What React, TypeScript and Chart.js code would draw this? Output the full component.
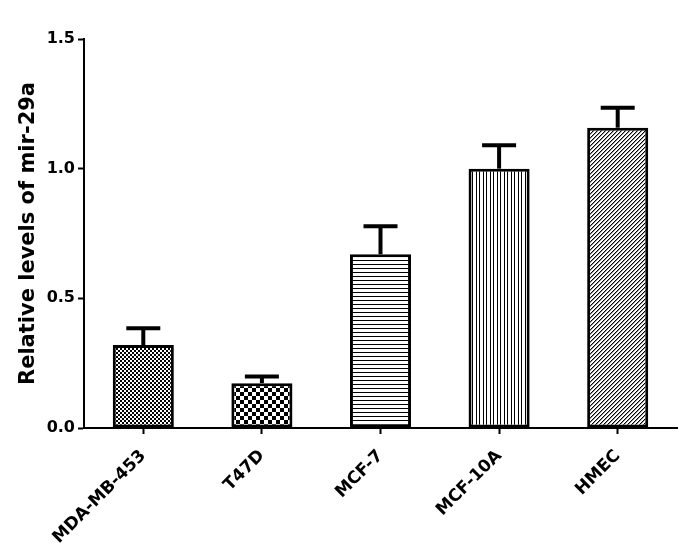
import React, { useEffect, useRef } from "react";
import { Chart, registerables } from "chart.js";

Chart.register(...registerables);

const categories = ["MDA-MB-453", "T47D", "MCF-7", "MCF-10A", "HMEC"];
const means = [0.32, 0.173, 0.67, 1.0, 1.158];
const errors = [0.065, 0.026, 0.108, 0.09, 0.077];
const yTicks = [0, 0.5, 1.0, 1.5];
const yTitle = "Relative levels of mir-29a";

function makePattern(kind: string): CanvasPattern | string {
  const c = document.createElement("canvas");
  let n = 4;
  if (kind === "checkSmall") n = 4;
  if (kind === "checkBig") n = 8;
  if (kind === "hlines") n = 4;
  if (kind === "vlines") n = 7;
  if (kind === "diag") n = 4;
  c.width = n;
  c.height = n;
  const g = c.getContext("2d")!;
  g.fillStyle = "#fff";
  g.fillRect(0, 0, n, n);
  g.fillStyle = "#000";
  if (kind === "checkSmall") {
    g.fillRect(0, 0, 2, 2);
    g.fillRect(2, 2, 2, 2);
  } else if (kind === "checkBig") {
    g.fillRect(0, 0, 4, 4);
    g.fillRect(4, 4, 4, 4);
  } else if (kind === "hlines") {
    g.fillRect(0, 0, n, 1);
  } else if (kind === "vlines") {
    g.fillRect(0, 0, 1, n);
    g.fillRect(3, 0, 1, n);
  } else if (kind === "diag") {
    for (let x = 0; x < n; x++) {
      g.fillStyle = "#000";
      g.fillRect(x, (n - 1 - x + n) % n, 1, 1);
      g.fillStyle = "#999";
      g.fillRect(x, (n - x + n) % n, 1, 1);
    }
  }
  const p = g.createPattern(c, "repeat");
  return p || "#888";
}

const patternKinds = ["checkSmall", "checkBig", "hlines", "vlines", "diag"];

const errorBarPlugin = {
  id: "errorBars",
  afterDatasetsDraw(chart: any) {
    const ctx = chart.ctx;
    const xs = chart.scales.x;
    const ys = chart.scales.y;
    ctx.save();
    ctx.strokeStyle = "#000";
    ctx.lineCap = "butt";
    means.forEach((m, i) => {
      const x = xs.getPixelForValue(i);
      const yb = ys.getPixelForValue(m);
      const yt = ys.getPixelForValue(m + errors[i]);
      ctx.lineWidth = 4;
      ctx.beginPath();
      ctx.moveTo(x, yb);
      ctx.lineTo(x, yt);
      ctx.stroke();
      ctx.lineWidth = 4;
      ctx.beginPath();
      ctx.moveTo(x - 17, yt);
      ctx.lineTo(x + 17, yt);
      ctx.stroke();
    });
    ctx.restore();
  },
};

export default function App() {
  const ref = useRef<HTMLCanvasElement | null>(null);
  useEffect(() => {
    if (!ref.current) return;
    const patterns = patternKinds.map((k) => makePattern(k));
    const chart = new Chart(ref.current, {
      type: "bar",
      data: {
        labels: categories,
        datasets: [
          {
            data: means,
            backgroundColor: patterns as any,
            borderColor: "#000",
            borderWidth: 3,
            borderSkipped: false,
            barPercentage: 1,
            categoryPercentage: 0.515,
          },
        ],
      },
      options: {
        animation: false,
        responsive: false,
        events: [],
        layout: { padding: { top: 39, right: 8, bottom: 0, left: 0 } },
        plugins: { legend: { display: false }, tooltip: { enabled: false } },
        scales: {
          x: {
            type: "category",
            offset: true,
            afterFit: (s: any) => {
              s.height = 132;
            },
            grid: {
              offset: false,
              drawOnChartArea: false,
              drawTicks: true,
              tickLength: 6,
              tickWidth: 2,
              tickColor: "#000",
            },
            border: { display: true, color: "#000", width: 2 },
            ticks: {
              autoSkip: false,
              maxRotation: 45,
              minRotation: 45,
              padding: 12,
              color: "#000",
              font: { family: "DejaVu Sans", weight: "bold", size: 17 },
            },
          },
          y: {
            min: 0,
            max: 1.5,
            afterFit: (s: any) => {
              s.width = 84;
            },
            afterBuildTicks: (s: any) => {
              s.ticks = yTicks.map((v) => ({ value: v }));
            },
            grid: {
              drawOnChartArea: false,
              drawTicks: true,
              tickLength: 6,
              tickWidth: 2,
              tickColor: "#000",
            },
            border: { display: true, color: "#000", width: 2 },
            ticks: {
              padding: 3,
              color: "#000",
              font: { family: "DejaVu Sans", weight: "bold", size: 16 },
              callback: (v: any) => Number(v).toFixed(1),
            },
            title: {
              display: true,
              text: yTitle,
              color: "#000",
              padding: { top: 16, bottom: 0 },
              font: { family: "DejaVu Sans", weight: "bold", size: 21 },
            },
          },
        },
      },
      plugins: [errorBarPlugin],
    });
    return () => chart.destroy();
  }, []);
  return (
    <div style={{ position: "fixed", left: 0, top: 0, width: 685, height: 560, background: "#fff" }}>
      <canvas ref={ref} width={685} height={560} />
    </div>
  );
}
